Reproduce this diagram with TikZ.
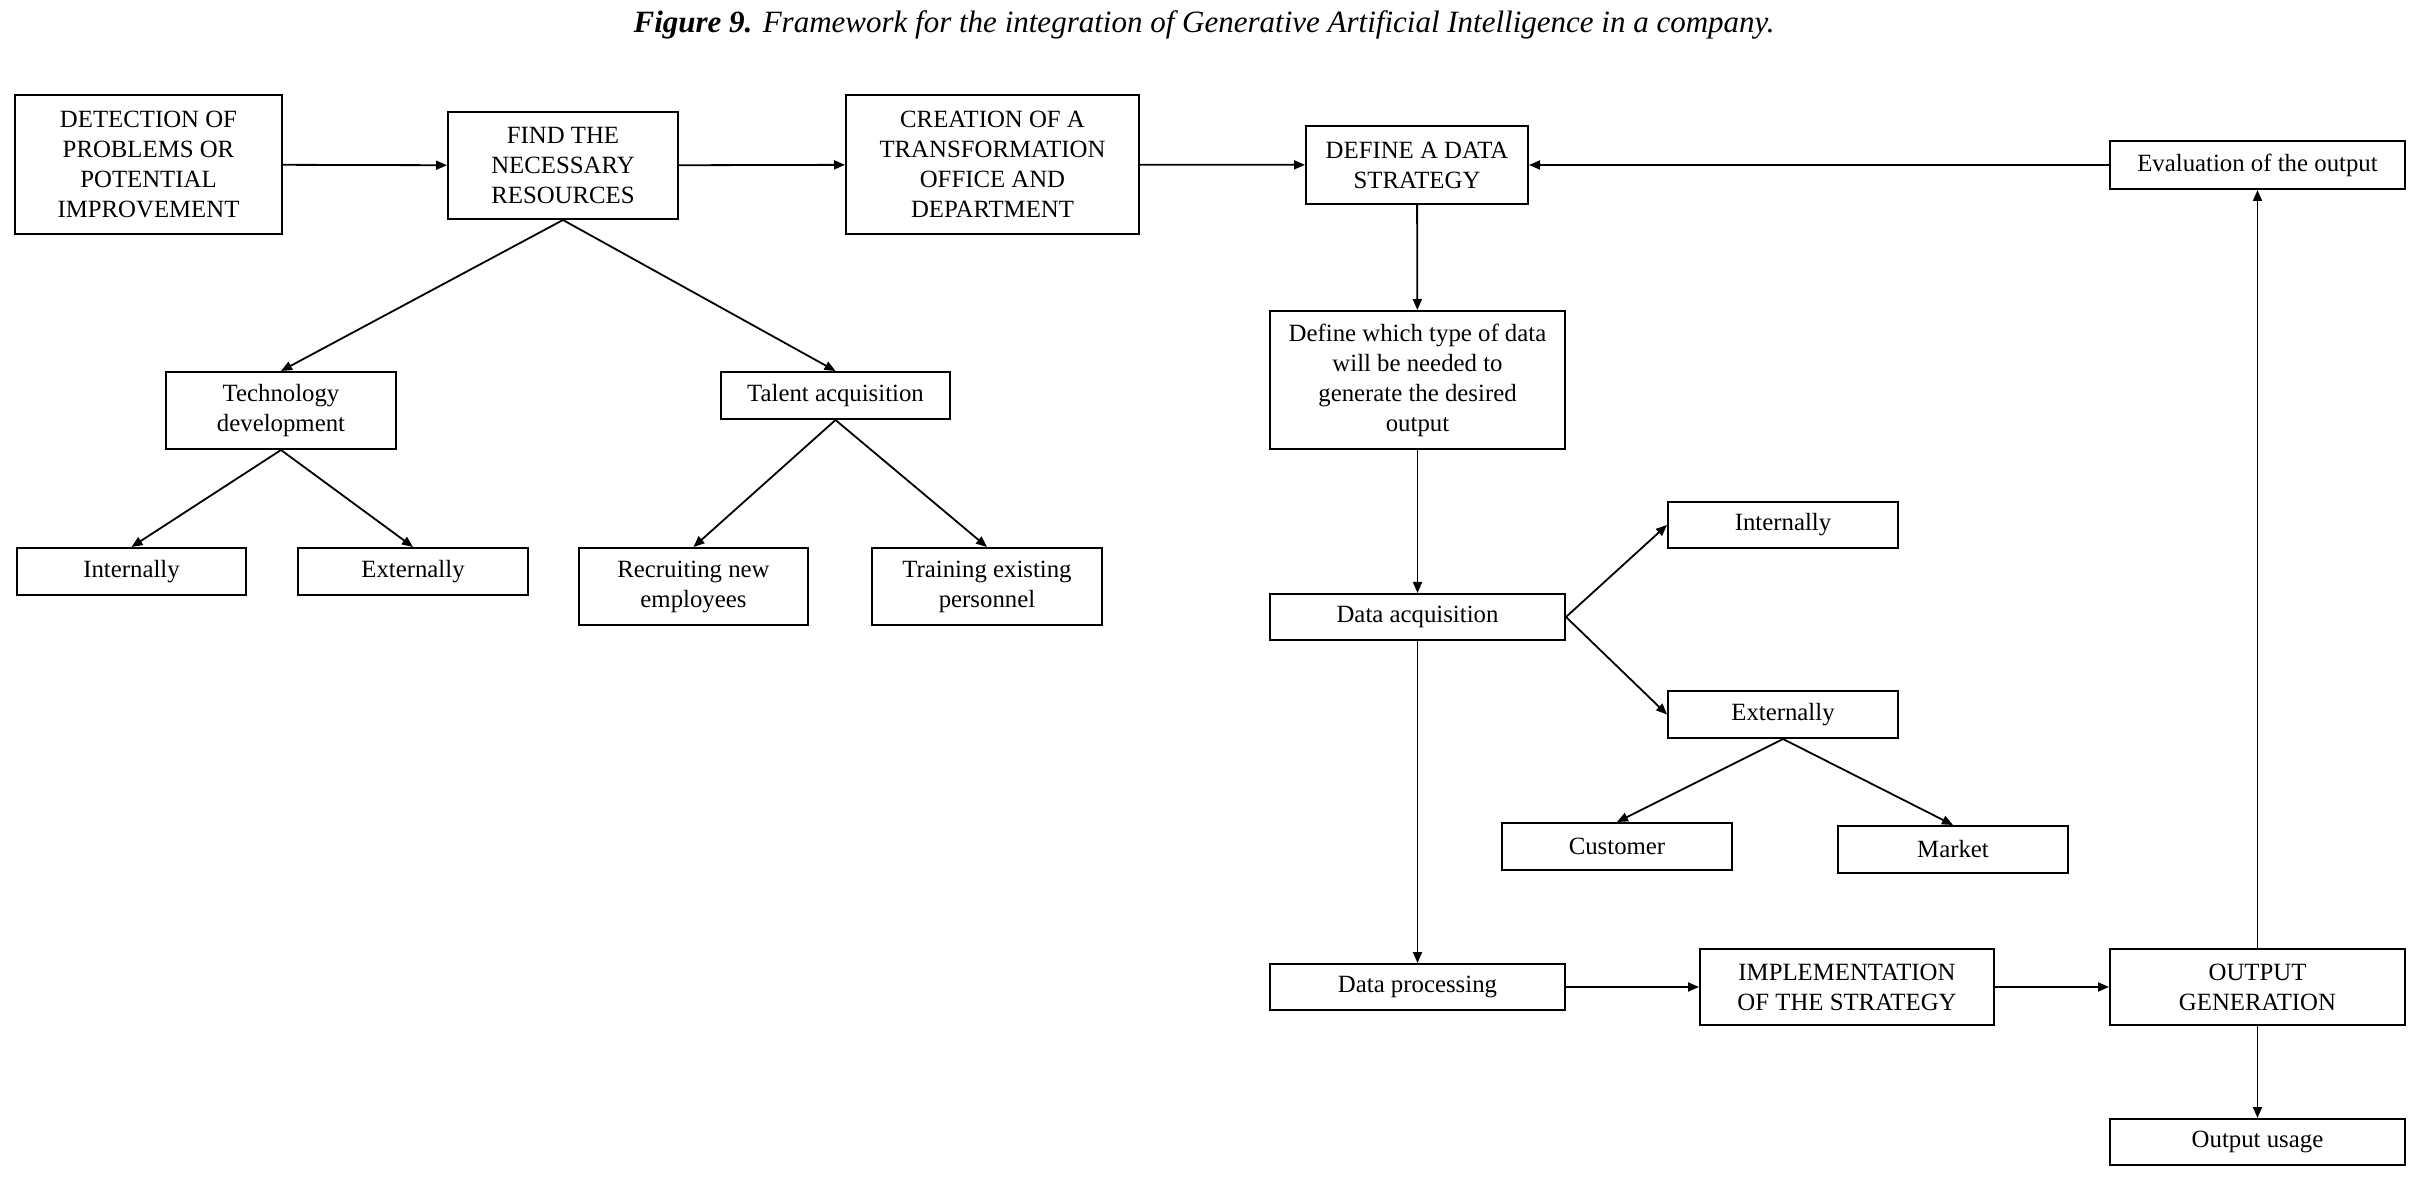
\documentclass[tikz,border=0pt]{standalone}
\usepackage{fontspec}
\setmainfont{Liberation Serif}
\usetikzlibrary{arrows.meta}

\begin{document}
\begin{tikzpicture}[x=0.5pt,y=-0.5pt,
    box/.style={draw,line width=1pt,inner sep=0pt,align=center,font=\fontsize{12.4}{15}\selectfont},
    sz/.style 2 args={minimum width=#1*0.5pt,minimum height=#2*0.5pt},
    arr/.style={-{Triangle[length=5.5pt,width=4.5pt]},line width=0.9pt}]
\useasboundingbox (0,0) rectangle (2422,1181);
\node (title) at (1204,25) {\fontsize{15.5}{18}\selectfont\itshape\textbf{Figure 9.} Framework for the integration of Generative Artificial Intelligence in a company.};

\node[box,sz={267}{139}] (detect) at (148.5,164.5) {DETECTION OF\\PROBLEMS OR\\POTENTIAL\\IMPROVEMENT};
\node[box,sz={230}{107}] (find) at (563,165.5) {FIND THE\\NECESSARY\\RESOURCES};
\node[box,sz={293}{139}] (office) at (992.5,164.5) {CREATION OF A\\TRANSFORMATION\\OFFICE AND\\DEPARTMENT};
\node[box,sz={222}{78}] (strategy) at (1417,165) {DEFINE A DATA\\STRATEGY};
\node[box,sz={295}{48}] (eval) at (2257.5,165) {Evaluation of the output};

\node[box,sz={230}{77}] (tech) at (281,410.5) {Technology\\development};
\node[box,sz={229}{47}] (talent) at (835.5,395.5) {Talent acquisition};
\node[box,sz={229}{47}] (techint) at (131.5,571.5) {Internally};
\node[box,sz={230}{47}] (techext) at (413,571.5) {Externally};
\node[box,sz={229}{77}] (recruit) at (693.5,586.5) {Recruiting new\\employees};
\node[box,sz={230}{77}] (train) at (987,586.5) {Training existing\\personnel};

\node[box,sz={295}{138}] (datatype) at (1417.5,380) {Define which type of data\\will be needed to\\generate the desired\\output};
\node[box,sz={295}{46}] (acq) at (1417.5,617) {Data acquisition};
\node[box,sz={230}{46}] (dataint) at (1783,525) {Internally};
\node[box,sz={230}{47}] (dataext) at (1783,714.5) {Externally};
\node[box,sz={230}{47}] (customer) at (1617,846.5) {Customer};
\node[box,sz={230}{47}] (market) at (1953,849.5) {Market};
\node[box,sz={295}{46}] (proc) at (1417.5,987) {Data processing};
\node[box,sz={294}{76}] (impl) at (1847,987) {IMPLEMENTATION\\OF THE STRATEGY};
\node[box,sz={295}{76}] (outgen) at (2257.5,987) {OUTPUT\\GENERATION};
\node[box,sz={295}{46}] (usage) at (2257.5,1142) {Output usage};

\draw[arr] (detect) -- (find);
\draw[arr] (find) -- (office);
\draw[arr] (office) -- (strategy);
\draw[arr] (eval) -- (strategy);
\draw[arr] (find.south) -- (tech.north);
\draw[arr] (find.south) -- (talent.north);
\draw[arr] (tech.south) -- (techint.north);
\draw[arr] (tech.south) -- (techext.north);
\draw[arr] (talent.south) -- (recruit.north);
\draw[arr] (talent.south) -- (train.north);
\draw[arr] (strategy) -- (datatype);
\draw[arr] (datatype) -- (acq);
\draw[arr] (acq) -- (proc);
\draw[arr] (acq.east) -- (dataint.west);
\draw[arr] (acq.east) -- (dataext.west);
\draw[arr] (dataext.south) -- (customer.north);
\draw[arr] (dataext.south) -- (market.north);
\draw[arr] (proc) -- (impl);
\draw[arr] (impl) -- (outgen);
\draw[arr] (outgen) -- (eval);
\draw[arr] (outgen) -- (usage);
\end{tikzpicture}
\end{document}
